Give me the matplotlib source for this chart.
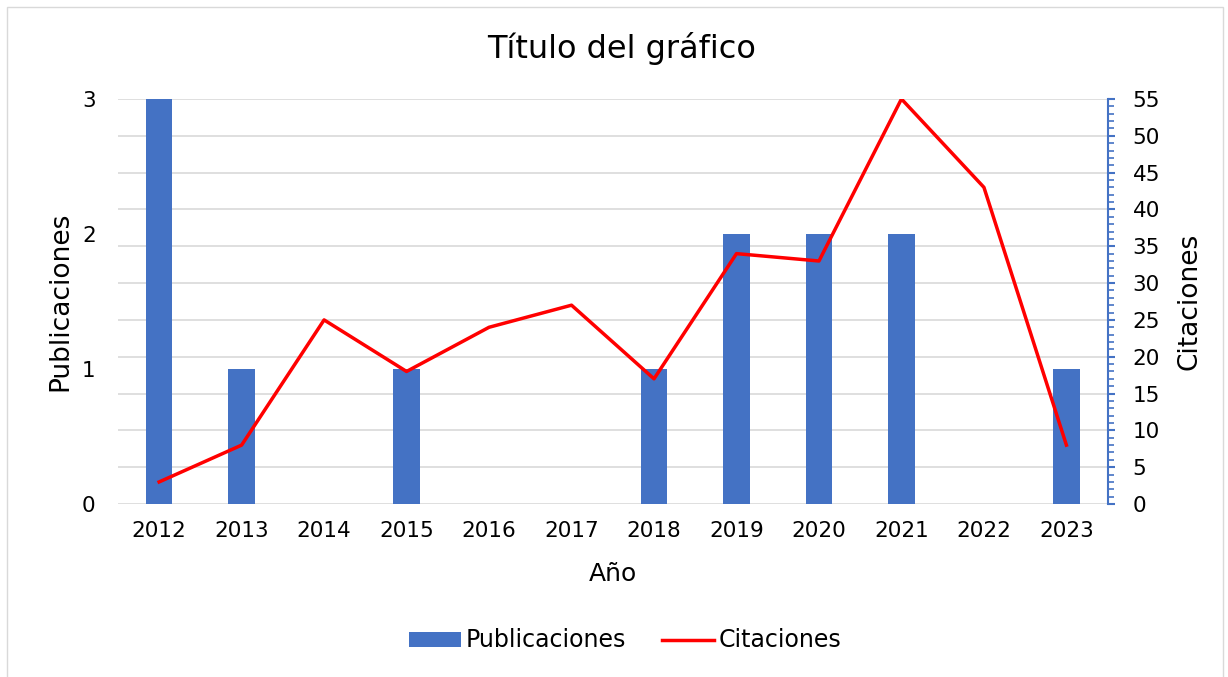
import matplotlib
matplotlib.use("Agg")
import matplotlib.pyplot as plt
from matplotlib.ticker import MultipleLocator
from matplotlib.patches import Rectangle, Patch
from matplotlib.lines import Line2D

years = ["2012", "2013", "2014", "2015", "2016", "2017", "2018", "2019", "2020", "2021", "2022", "2023"]
publicaciones = [3, 1, 0, 1, 0, 0, 1, 2, 2, 2, 0, 1]
citaciones = [3, 8, 25, 18, 24, 27, 17, 34, 33, 55, 43, 8]

plt.rcParams['font.family'] = ['DejaVu Sans']

fig = plt.figure(figsize=(12.28, 6.77), dpi=100)
fig.patches.append(Rectangle((0.006, -0.01), 0.99, 0.999, transform=fig.transFigure,
                             fill=False, edgecolor="#d9d9d9", linewidth=1))
ax = fig.add_axes([0.096, 0.2555, 0.806, 0.5983])
ax2 = ax.twinx()

x = list(range(len(years)))
ax.set_xlim(-0.5, len(years) - 0.5)
ax.set_ylim(0, 3)
ax2.set_ylim(0, 55)

# gridlines every 5 on the secondary scale, drawn under the bars
grid_vals = list(range(0, 56, 5))
for v in grid_vals:
    ax.axhline(v * 3 / 55, color="#d9d9d9", linewidth=1.2, zorder=1)

ax.bar(x, publicaciones, width=0.32, color="#4472c4", zorder=2)
ax.set_yticks([0, 1, 2, 3])
ax.set_xticks(x)
ax.set_xticklabels(years)
ax.tick_params(axis="both", length=0, labelsize=15.5, colors="#000000")
ax.tick_params(axis="y", pad=16)
ax.tick_params(axis="x", pad=12)
for s in ["top", "left", "right", "bottom"]:
    ax.spines[s].set_visible(False)

ax2.plot(x, citaciones, color="#ff0000", linewidth=2.5, zorder=3)
ax2.yaxis.set_major_locator(MultipleLocator(5))
ax2.yaxis.set_minor_locator(MultipleLocator(1))
ax2.tick_params(axis="y", which="major", length=5, width=1.5, color="#4472c4",
                labelcolor="#000000", labelsize=15.5, pad=13)
ax2.tick_params(axis="y", which="minor", length=4, width=1.2, color="#4472c4")
for s in ["top", "left", "bottom"]:
    ax2.spines[s].set_visible(False)
ax2.spines["right"].set_color("#4472c4")
ax2.spines["right"].set_linewidth(1.5)

ax2.set_zorder(ax.get_zorder() + 1)
ax2.patch.set_visible(False)
ax.patch.set_visible(False)

ax.set_xlabel("Año", fontsize=18, labelpad=15)
ax.set_ylabel("Publicaciones", fontsize=19, labelpad=6)
ax2.set_ylabel("Citaciones", fontsize=19, labelpad=12)

fig.text(0.506, 0.928, "Título del gráfico", ha="center", va="center", fontsize=23)

handles = [Patch(facecolor="#4472c4"), Line2D([0], [0], color="#ff0000", linewidth=2.5)]
fig.legend(handles, ["Publicaciones", "Citaciones"], loc="center", bbox_to_anchor=(0.509, 0.054),
           ncol=2, frameon=False, fontsize=17, handlelength=2.2, handleheight=0.6,
           columnspacing=1.5, handletextpad=0.2)

fig.savefig("out.png", dpi=100)
